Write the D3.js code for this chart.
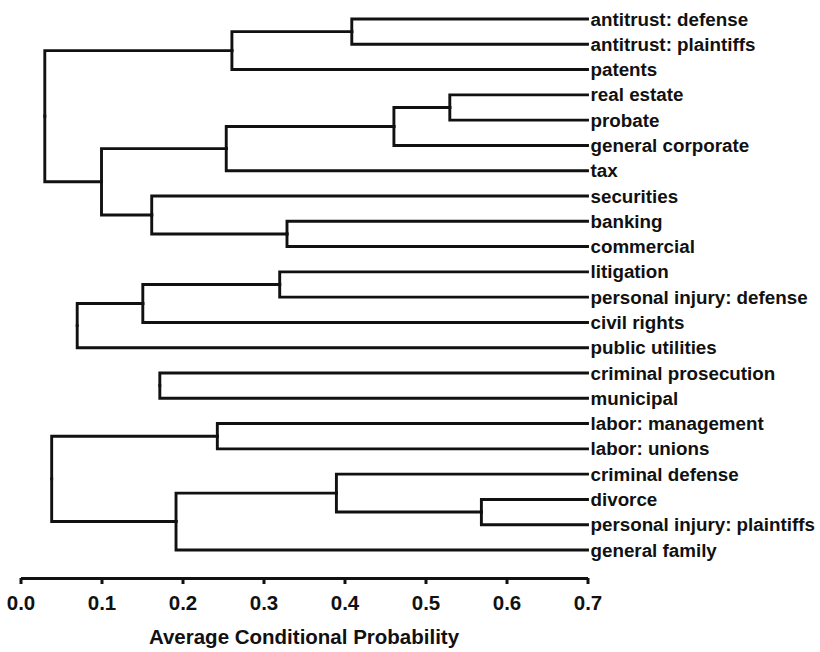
<!DOCTYPE html>
<html>
<head>
<meta charset="utf-8">
<script src="https://cdn.jsdelivr.net/npm/d3@7"></script>
<style>
  body { margin: 0; background: white; }
  text { font-family: "Liberation Sans", Arial, sans-serif; font-weight: bold; fill: #111; }
</style>
</head>
<body>
<div id="chart"></div>
<script>
// Leaves top to bottom
const leaves = [
  "antitrust: defense", "antitrust: plaintiffs", "patents", "real estate", "probate",
  "general corporate", "tax", "securities", "banking", "commercial", "litigation",
  "personal injury: defense", "civil rights", "public utilities", "criminal prosecution",
  "municipal", "labor: management", "labor: unions", "criminal defense", "divorce",
  "personal injury: plaintiffs", "general family"
];

// merges: [left, right, value]; "m<i>" refers to an earlier merge
const merges = [
  ["antitrust: defense", "antitrust: plaintiffs", 0.409], // m0
  ["m0", "patents", 0.261],                               // m1
  ["real estate", "probate", 0.530],                      // m2
  ["m2", "general corporate", 0.461],                     // m3
  ["m3", "tax", 0.254],                                   // m4
  ["banking", "commercial", 0.329],                       // m5
  ["securities", "m5", 0.162],                            // m6
  ["m4", "m6", 0.100],                                    // m7
  ["m1", "m7", 0.030],                                    // m8
  ["litigation", "personal injury: defense", 0.320],      // m9
  ["m9", "civil rights", 0.151],                          // m10
  ["m10", "public utilities", 0.070],                     // m11
  ["criminal prosecution", "municipal", 0.172],           // m12
  ["labor: management", "labor: unions", 0.243],          // m13
  ["divorce", "personal injury: plaintiffs", 0.569],      // m14
  ["criminal defense", "m14", 0.390],                     // m15
  ["m15", "general family", 0.192],                       // m16
  ["m13", "m16", 0.0385]                                  // m17
];

const tickValues = [0, 0.1, 0.2, 0.3, 0.4, 0.5, 0.6, 0.7];

const w = 820, h = 652;

const svg = d3.select("#chart").append("svg")
  .attr("width", w)
  .attr("height", h)
  .style("background-color", "white");

const xScale = d3.scaleLinear().domain([0, 0.7]).range([20.5, 587.5]);
const yScale = d3.scalePoint().domain(leaves).range([19, 550]);

// build node table
const nodes = {};
leaves.forEach(name => { nodes[name] = {name: name, value: 0.7, y: yScale(name), children: null}; });
merges.forEach((m, i) => {
  const a = nodes[m[0]], b = nodes[m[1]];
  nodes["m" + i] = {name: "m" + i, value: m[2], y: (a.y + b.y) / 2, children: [a, b]};
});

// links (elbows)
const links = [];
merges.forEach((m, i) => {
  const p = nodes["m" + i];
  p.children.forEach(c => links.push({p: p, c: c}));
});

svg.append("g")
  .selectAll("path")
  .data(links)
  .enter()
  .append("path")
  .attr("d", d => "M" + xScale(d.p.value) + "," + d.p.y + "V" + d.c.y + "H" + xScale(d.c.value))
  .attr("fill", "none")
  .attr("stroke", "#111")
  .attr("stroke-width", 2.9)
  .attr("stroke-linecap", "square");

// leaf labels
svg.append("g")
  .selectAll("text")
  .data(leaves)
  .enter()
  .append("text")
  .attr("x", xScale(0.7) + 3)
  .attr("y", d => yScale(d))
  .attr("dy", "0.35em")
  .attr("font-size", "18.8px")
  .text(d => d);

// axis
const xAxis = d3.axisBottom(xScale)
  .tickValues(tickValues)
  .tickFormat(d3.format(".1f"))
  .tickSizeInner(6)
  .tickSizeOuter(0);

const gx = svg.append("g")
  .attr("transform", "translate(0,578)")
  .call(xAxis);
gx.select(".domain").attr("stroke", "#111").attr("stroke-width", 3);
gx.selectAll(".tick line").attr("stroke", "#111").attr("stroke-width", 3);
gx.selectAll(".tick text")
  .attr("y", 17)
  .attr("font-size", "20.5px")
  .attr("font-family", "'Liberation Sans', Arial, sans-serif")
  .attr("font-weight", "bold")
  .attr("fill", "#111");

// x-axis label
svg.append("text")
  .attr("x", (xScale(0) + xScale(0.7)) / 2)
  .attr("y", 644)
  .attr("text-anchor", "middle")
  .attr("font-size", "20.5px")
  .text("Average Conditional Probability");
</script>
</body>
</html>
